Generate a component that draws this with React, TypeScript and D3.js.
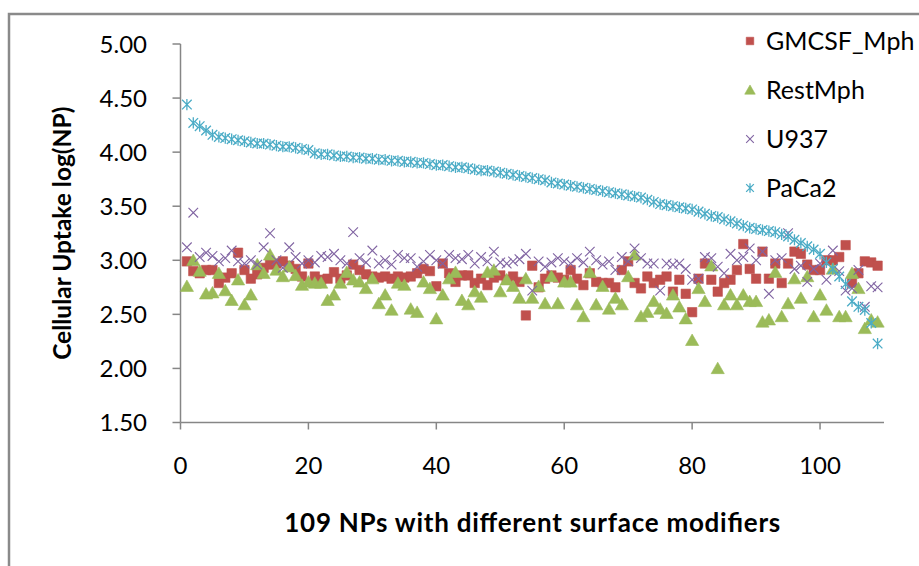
import * as d3 from 'd3'

// values, index 1..109
const gmcsf = [
  2.99, 2.9, 2.88, 2.91, 2.91, 2.79, 2.84, 2.88, 3.07, 2.91,
  2.83, 2.87, 2.93, 2.96, 2.97, 2.99, 2.95, 2.92, 2.85, 2.97,
  2.85, 2.82, 2.83, 2.89, 2.83, 2.86, 2.96, 2.91, 2.87, 2.85,
  2.84, 2.85, 2.83, 2.85, 2.84, 2.85, 2.88, 2.92, 2.9, 2.76,
  2.97, 2.88, 2.8, 2.86, 2.86, 2.79, 2.83, 2.77, 2.84, 2.86,
  2.82, 2.85, 2.8, 2.49, 2.95, 2.75, 2.83, 2.86, 2.84, 2.82,
  2.91, 2.83, 2.77, 2.88, 2.8, 2.79, 2.79, 2.75, 2.91, 2.99,
  2.79, 2.74, 2.85, 2.79, 2.82, 2.85, 2.71, 2.82, 2.69, 2.52,
  2.83, 2.97, 2.82, 2.71, 2.79, 2.82, 2.91, 3.15, 2.92, 2.83,
  3.08, 2.83, 2.97, 2.79, 2.97, 3.08, 3.06, 2.96, 2.91, 2.91,
  3.0, 3.0, 3.03, 3.14, 2.79, 2.88, 2.99, 2.98, 2.95,
]
const restMph = [
  2.76, 3.0, 2.9, 2.69, 2.7, 2.88, 2.72, 2.63, 2.82, 2.59,
  2.68, 2.96, 2.88, 3.05, 2.91, 2.85, 2.94, 2.86, 2.77, 2.8,
  2.79, 2.79, 2.63, 2.68, 2.79, 2.89, 2.82, 2.8, 2.74, 2.83,
  2.6, 2.68, 2.54, 2.79, 2.77, 2.55, 2.52, 2.8, 2.74, 2.46,
  2.68, 2.83, 2.89, 2.63, 2.59, 2.71, 2.66, 2.89, 2.91, 2.71,
  2.82, 2.76, 2.65, 2.83, 2.65, 2.76, 2.6, 2.85, 2.6, 2.8,
  2.8, 2.59, 2.48, 2.89, 2.59, 2.76, 2.55, 2.65, 2.59, 2.85,
  3.05, 2.48, 2.52, 2.62, 2.55, 2.51, 2.68, 2.57, 2.46, 2.26,
  2.74, 2.62, 2.95, 2.0, 2.59, 2.68, 2.59, 2.68, 2.62, 2.62,
  2.43, 2.45, 2.89, 2.48, 2.6, 2.83, 2.65, 2.85, 2.48, 2.68,
  2.54, 2.92, 2.48, 2.48, 2.88, 2.74, 2.37, 2.45, 2.43,
]
const u937 = [
  3.12, 3.44, 3.03, 3.07, 3.04, 2.99, 3.02, 3.09, 2.99, 2.97,
  3.0, 2.96, 3.12, 3.25, 3.0, 2.93, 3.12, 3.03, 2.97, 3.0,
  2.98, 3.04, 3.03, 3.06, 3.0, 2.97, 3.26, 3.02, 2.98, 3.09,
  2.97, 3.0, 2.96, 3.05, 3.02, 3.02, 2.94, 2.99, 3.05, 3.0,
  2.97, 3.05, 3.02, 3.01, 3.05, 2.97, 3.03, 2.99, 3.08, 2.98,
  2.97, 2.99, 3.01, 3.06, 2.72, 2.99, 2.94, 2.98, 3.02, 2.99,
  2.97, 3.02, 2.98, 3.08, 3.0, 2.96, 2.99, 2.91, 3.03, 2.99,
  3.11, 3.02, 2.97, 2.97, 2.72, 2.97, 2.96, 2.97, 2.92, 2.82,
  2.83, 3.03, 3.02, 2.94, 2.88, 3.06, 3.0, 3.03, 3.11, 3.0,
  3.08, 2.69, 3.0, 3.02, 3.25, 2.92, 2.95, 2.8, 2.92, 2.97,
  2.82, 3.09, 2.9, 2.72, 2.74, 2.91, 2.57, 2.76, 2.75,
]
const paca2 = [
  4.44, 4.27, 4.24, 4.2, 4.16, 4.14, 4.13, 4.12, 4.11, 4.1,
  4.09, 4.08, 4.08, 4.07, 4.06, 4.05, 4.05, 4.04, 4.03, 4.02,
  3.99, 3.98, 3.98, 3.97, 3.96, 3.96, 3.95, 3.95, 3.94, 3.94,
  3.93, 3.93, 3.92, 3.92, 3.91, 3.91, 3.9, 3.9, 3.89, 3.88,
  3.88, 3.87, 3.86, 3.86, 3.85, 3.84, 3.83, 3.83, 3.82, 3.81,
  3.8, 3.79, 3.78, 3.77, 3.76, 3.75, 3.74, 3.72, 3.71, 3.7,
  3.69, 3.68, 3.67, 3.66, 3.65, 3.64, 3.63, 3.62, 3.61, 3.6,
  3.59, 3.58, 3.56, 3.54, 3.52, 3.51, 3.5, 3.49, 3.48, 3.47,
  3.45, 3.43, 3.41, 3.4, 3.38, 3.36, 3.34, 3.32, 3.3, 3.29,
  3.28, 3.27, 3.26, 3.24, 3.22, 3.19, 3.16, 3.13, 3.1, 3.06,
  2.98, 2.92, 2.85, 2.78, 2.62, 2.57, 2.54, 2.42, 2.23,
]

const seriesNames = ['GMCSF_Mph', 'RestMph', 'U937', 'PaCa2']
const seriesColors = ['#C0504D', '#9BBB59', '#8064A2', '#4BACC6']
const xTicks = [0, 20, 40, 60, 80, 100]
const yTicks = [1.5, 2, 2.5, 3, 3.5, 4, 4.5, 5]

const font = 'Lato, "Open Sans", sans-serif'

// marker shapes, centred on 0,0
const markerPath = (k, s = 1) => {
  if (k === 0) {
    const h = 4.7 * s
    return `M${-h},${-h}H${h}V${h}H${-h}Z`
  }
  if (k === 1) return `M0,${-6.3 * s}L${6.6 * s},${5.2 * s}L${-6.6 * s},${5.2 * s}Z`
  const h = 4.8 * s
  const cross = `M${-h},${-h}L${h},${h}M${-h},${h}L${h},${-h}`
  if (k === 2) return cross
  return cross + `M0,${-h - 0.8}L0,${h + 0.8}`
}

function Marker({ k, x, y, s = 1 }) {
  const c = seriesColors[k]
  const filled = k < 2
  return (
    <path
      d={markerPath(k, s)}
      transform={`translate(${x},${y})`}
      fill={filled ? c : 'none'}
      stroke={c}
      strokeWidth={filled ? 0.6 : k === 3 ? 1.3 : 1.1}
    />
  )
}

export default function App() {
  const x = d3.scaleLinear().domain([0, 110]).range([180.5, 884])
  const y = d3.scaleLinear().domain([1.5, 5]).range([422.5, 44])
  const data = [gmcsf, restMph, u937, paca2]
  const axisColor = '#868686'

  return (
    <svg
      width={919}
      height={566}
      style={{ position: 'absolute', left: 0, top: 0, background: '#fff' }}
      fontFamily={font}
    >
      <rect x={9} y={14} width={930} height={600} fill="#fff" stroke="#8a8a8a" strokeWidth={2.5} />

      {/* y axis */}
      <line x1={x(0)} x2={x(0)} y1={y(5)} y2={y(1.5)} stroke={axisColor} strokeWidth={1.5} />
      {yTicks.map((t) => (
        <g key={t}>
          <line x1={x(0) - 8} x2={x(0)} y1={y(t)} y2={y(t)} stroke={axisColor} strokeWidth={1.5} />
          <text x={147} y={y(t)} dy="0.36em" textAnchor="end" fontSize={24} fill="#000">
            {d3.format('.2f')(t)}
          </text>
        </g>
      ))}

      {/* x axis */}
      <line x1={x(0)} x2={x(110)} y1={y(1.5)} y2={y(1.5)} stroke={axisColor} strokeWidth={1.5} />
      {xTicks.map((t) => (
        <g key={t}>
          <line x1={x(t)} x2={x(t)} y1={y(1.5)} y2={y(1.5) + 7} stroke={axisColor} strokeWidth={1.5} />
          <text x={x(t)} y={474} textAnchor="middle" fontSize={24} fill="#000">
            {t}
          </text>
        </g>
      ))}

      <text
        transform={`translate(71,${(y(5) + y(1.5)) / 2}) rotate(-90)`}
        textAnchor="middle"
        fontSize={24.5}
        fontWeight="bold"
        fill="#000"
      >
        Cellular Uptake log(NP)
      </text>
      <text
        x={(x(0) + x(110)) / 2}
        y={532}
        textAnchor="middle"
        fontSize={26}
        fontWeight="bold"
        fill="#000"
        textLength={496}
        lengthAdjust="spacing"
      >
        109 NPs with different surface modifiers
      </text>

      {data.map((vals, k) => (
        <g key={seriesNames[k]}>
          {vals.map((v, i) => (
            <Marker key={i} k={k} x={x(i + 1)} y={y(v)} />
          ))}
        </g>
      ))}

      {/* legend */}
      {seriesNames.map((name, k) => {
        const ly = 41 + k * 49
        return (
          <g key={name}>
            <Marker k={k} x={750} y={ly} s={0.8} />
            <text x={766} y={ly} dy="0.36em" fontSize={25} fill="#000">
              {name}
            </text>
          </g>
        )
      })}
    </svg>
  )
}
